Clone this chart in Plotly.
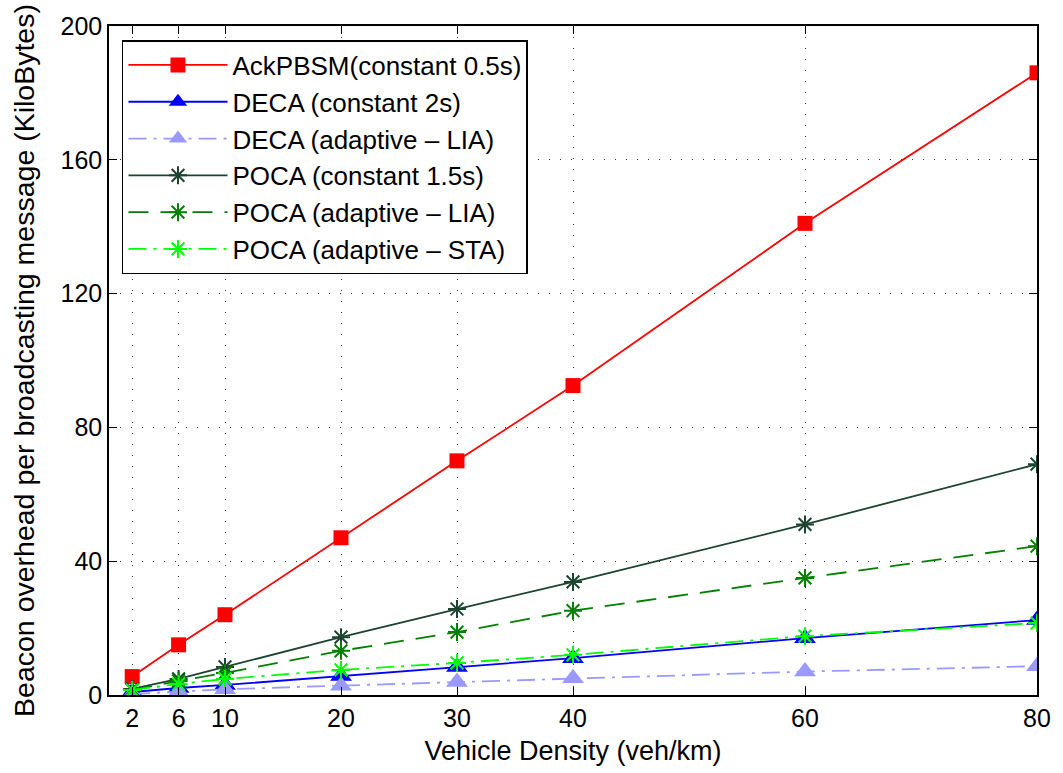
import plotly.graph_objects as go

density = [2, 6, 10, 20, 30, 40, 60, 80]
ack_const = [5.5, 15, 24, 47, 70, 92.5, 141, 186]
deca_const = [0.9, 2.1, 3.0, 5.7, 8.4, 11.0, 17.0, 22.4]
deca_lia = [0.3, 1.0, 1.7, 2.8, 3.9, 5.0, 7.0, 8.6]
poca_const = [1.8, 4.8, 8.4, 17.3, 25.7, 33.8, 51.0, 69.0]
poca_lia = [1.5, 4.2, 6.6, 13.2, 18.8, 25.2, 35.0, 44.5]
poca_sta = [1.5, 3.3, 4.8, 7.5, 9.6, 12.0, 17.6, 21.5]

x_ticks = [2, 6, 10, 20, 30, 40, 60, 80]
y_ticks = [0, 40, 80, 120, 160, 200]

FONT = "Liberation Sans, Arial, sans-serif"

series = [
    ("AckPBSM(constant 0.5s)", ack_const, "#ff0000", "solid", "square", 15),
    ("DECA (constant 2s)", deca_const, "#0000ff", "solid", "triangle-up", 19),
    ("DECA (adaptive \u2013 LIA)", deca_lia, "#9999ff", "18px,7px,3px,7px", "triangle-up", 19),
    ("POCA (constant 1.5s)", poca_const, "#1c4430", "solid", "asterisk-open", 15),
    ("POCA (adaptive \u2013 LIA)", poca_lia, "#008000", "20px,12px", "asterisk-open", 15),
    ("POCA (adaptive \u2013 STA)", poca_sta, "#00ff00", "18px,7px,3px,7px", "asterisk-open", 15),
]

fig = go.Figure()
for i, (name, y, color, dash, sym, size) in enumerate(series):
    if sym.startswith("asterisk"):
        marker = dict(symbol=sym, size=size, color=color, line=dict(color=color, width=2))
    else:
        marker = dict(symbol=sym, size=size, color=color, line=dict(width=0))
    fig.add_trace(go.Scatter(
        x=density, y=y, name=name, mode="lines+markers",
        line=dict(color=color, width=1.8, dash=dash),
        marker=marker,
    ))

axis_common = dict(
    showline=True, linecolor="black", linewidth=1.5, mirror="ticks",
    ticks="inside", ticklen=8, tickcolor="black", tickwidth=1,
    showgrid=True, gridcolor="#333333", gridwidth=1, griddash="1px,10px",
    zeroline=False,
    tickfont=dict(family=FONT, size=25, color="black"),
)

fig.update_xaxes(
    range=[0, 80], tickvals=x_ticks, ticktext=[str(v) for v in x_ticks],
    title=dict(text="Vehicle Density (veh/km)", standoff=10,
               font=dict(family=FONT, size=27, color="black")),
    **axis_common,
)
fig.update_yaxes(
    range=[0, 200], tickvals=y_ticks, ticktext=[str(v) for v in y_ticks],
    title=dict(text="Beacon overhead per broadcasting message (KiloBytes)", standoff=18,
               font=dict(family=FONT, size=28.5, color="black")),
    **axis_common,
)

fig.update_layout(
    width=1063, height=773,
    margin=dict(l=109, r=24, t=25, b=78),
    paper_bgcolor="white", plot_bgcolor="white",
    font=dict(family=FONT, color="black"),
    legend=dict(
        x=0.014, y=0.979, xanchor="left", yanchor="top",
        bgcolor="white", bordercolor="black", borderwidth=1.5,
        font=dict(family=FONT, size=26, color="black"),
        tracegroupgap=0, itemwidth=99,
    ),
)

fig.write_html("out.html")
